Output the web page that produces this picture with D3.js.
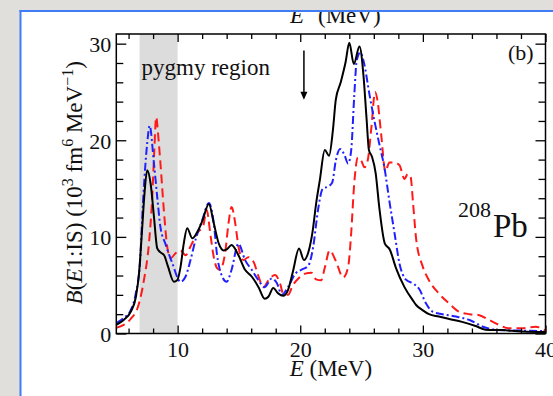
<!DOCTYPE html>
<html>
<head>
<meta charset="utf-8">
<script src="https://cdn.jsdelivr.net/npm/d3@7"></script>
<style>
  html, body { margin: 0; padding: 0; background: #e0dfdb; }
  svg { display: block; }
  text { font-family: "Liberation Serif", "Times New Roman", serif; fill: #111; }
</style>
</head>
<body>
<svg id="chart" width="553" height="396"></svg>
<script>
// Isoscalar E1 strength in 208Pb: three calculations
const energyBlack = [5.0, 5.6, 6.2, 6.6, 6.85, 7.1, 7.3, 7.52, 7.8, 8.07, 8.34, 8.6, 8.9, 9.2, 9.7, 9.96, 10.24, 10.5, 10.78, 11.2, 11.6, 12.0, 12.55, 12.95, 13.36, 13.76, 14.0, 14.4, 14.96, 15.5, 16.04, 16.6, 17.1, 17.4, 17.8, 18.2, 18.6, 19.0, 19.4, 19.9, 20.3, 20.7, 21.0, 21.3, 21.6, 22.0, 22.35, 22.66, 22.9, 23.3, 23.7, 24.0, 24.37, 24.83, 25.15, 25.4, 25.6, 25.85, 26.15, 26.45, 26.9, 27.3, 27.8, 28.5, 29.2, 29.45, 30.0, 30.5, 31.3, 32.15, 33.2, 34.3, 35.1, 36.5, 38.1, 40.0];
const valueBlack = [0.9, 1.4, 2.3, 3.8, 6.2, 10.7, 14.5, 16.9, 15.5, 12.1, 8.8, 8.4, 8.1, 7.0, 5.35, 5.5, 6.9, 9.3, 10.9, 9.85, 10.5, 11.6, 13.4, 11.4, 9.3, 8.6, 8.7, 9.15, 8.1, 6.6, 5.9, 4.8, 3.6, 3.8, 4.7, 4.15, 3.9, 4.5, 6.4, 8.8, 7.6, 8.6, 10.5, 13.5, 15.9, 19.0, 18.4, 21.0, 24.2, 26.0, 28.1, 30.1, 27.9, 29.7, 26.8, 22.4, 19.0, 18.3, 16.6, 13.0, 9.3, 8.7, 6.8, 4.8, 3.4, 2.95, 2.4, 2.0, 1.75, 1.5, 1.2, 0.78, 0.4, 0.35, 0.2, 0.15];

const energyBlue = [5.0, 5.6, 6.17, 6.58, 6.93, 7.2, 7.52, 7.72, 8.07, 8.34, 8.6, 9.0, 9.56, 10.24, 10.65, 11.05, 11.46, 12.0, 12.55, 12.95, 13.2, 13.6, 14.0, 14.4, 14.96, 15.5, 16.04, 16.6, 17.1, 17.67, 18.1, 18.5, 19.0, 19.6, 20.1, 20.65, 21.06, 21.45, 21.84, 22.25, 22.6, 22.9, 23.25, 23.6, 23.9, 24.15, 24.4, 24.6, 24.9, 25.2, 25.65, 26.05, 26.45, 26.86, 27.27, 27.7, 28.1, 28.6, 29.3, 29.7, 30.26, 30.8, 31.6, 32.7, 33.8, 34.9, 36.2, 37.9, 40.0];
const valueBlue = [1.1, 1.6, 2.4, 4.1, 7.3, 14.1, 19.7, 21.5, 17.6, 14.1, 11.0, 9.3, 7.3, 5.35, 5.9, 7.6, 9.7, 11.7, 13.5, 11.4, 8.3, 6.0, 5.35, 6.6, 9.3, 7.6, 6.6, 5.5, 4.8, 5.7, 5.2, 4.0, 4.8, 6.2, 6.6, 7.0, 9.0, 12.8, 15.0, 15.2, 15.6, 17.9, 19.1, 18.5, 17.6, 18.9, 24.5, 28.2, 29.1, 28.0, 24.7, 22.0, 19.6, 17.2, 13.7, 10.3, 7.2, 5.6, 5.1, 4.6, 3.1, 2.25, 2.0, 1.75, 1.4, 0.7, 0.36, 0.3, 0.25];

const energyRed = [5.0, 5.6, 6.17, 6.85, 7.25, 7.66, 7.93, 8.1, 8.25, 8.45, 8.6, 8.9, 9.15, 9.43, 9.83, 10.24, 10.65, 11.05, 11.6, 12.1, 12.36, 12.7, 12.95, 13.2, 13.44, 13.87, 14.15, 14.4, 14.7, 14.96, 15.37, 15.77, 16.2, 16.6, 17.0, 17.4, 17.94, 18.35, 18.6, 19.0, 19.4, 19.85, 20.4, 20.9, 21.3, 21.7, 22.0, 22.4, 22.9, 23.5, 23.9, 24.15, 24.4, 24.7, 24.97, 25.24, 25.5, 25.8, 26.1, 26.3, 26.6, 26.94, 27.27, 27.7, 28.1, 28.5, 28.76, 29.0, 29.2, 29.45, 30.0, 30.5, 31.3, 32.15, 32.96, 33.8, 34.6, 35.4, 36.2, 37.0, 38.1, 39.2, 40.0];
const valueRed = [0.6, 0.9, 1.5, 3.1, 5.5, 9.3, 14.1, 19.0, 22.4, 20.0, 17.6, 12.4, 9.0, 7.8, 8.3, 8.6, 8.1, 9.0, 10.4, 11.2, 12.8, 10.0, 7.9, 6.8, 6.6, 8.3, 11.4, 13.1, 11.4, 9.0, 7.6, 7.9, 7.4, 5.9, 4.8, 5.5, 6.05, 5.2, 4.15, 4.0, 5.0, 5.7, 6.2, 6.3, 5.6, 5.5, 6.8, 8.6, 7.5, 5.8, 6.85, 10.3, 15.5, 18.2, 17.9, 17.2, 17.9, 21.3, 25.0, 24.1, 20.6, 16.8, 17.7, 17.7, 17.4, 16.0, 16.5, 16.2, 13.5, 9.8, 6.9, 5.5, 4.15, 3.1, 2.25, 2.0, 1.9, 1.4, 0.9, 0.55, 0.55, 0.7, 0.3];

const xMajorTicks = [10, 20, 30, 40];
const xMinorTicks = [6, 8, 12, 14, 16, 18, 22, 24, 26, 28, 32, 34, 36, 38];
const yMajorTicks = [0, 10, 20, 30];
const yMinorTicks = [2, 4, 6, 8, 12, 14, 16, 18, 22, 24, 26, 28];
const pygmyRange = [6.9, 10.0];
const arrowEnergy = 20.3;
const arrowValues = [29.3, 24.2];

const svg = d3.select("#chart");
const W = 553, H = 396;
const plotLeft = 116.3, plotRight = 545.5, plotTop = 34, plotBottom = 333.5;

const x = d3.scaleLinear().domain([5, 40]).range([plotLeft, plotRight]);
const y = d3.scaleLinear().domain([0, 31]).range([plotBottom, plotTop]);

// page panel
svg.append("rect").attr("width", W).attr("height", H).attr("fill", "#e0dfdb");
svg.append("rect").attr("x", 20).attr("y", 11).attr("width", W - 20).attr("height", H - 11).attr("fill", "#fff");

// upper axis title, partly hidden by the panel edge
const topTitle = svg.append("text").attr("y", 23).attr("font-size", 23);
topTitle.append("tspan").attr("x", 290).attr("font-style", "italic").text("E");
topTitle.append("tspan").attr("x", 318).text("(MeV)");

// shaded pygmy band
svg.append("rect")
  .attr("x", x(pygmyRange[0])).attr("y", plotTop)
  .attr("width", x(pygmyRange[1]) - x(pygmyRange[0]))
  .attr("height", plotBottom - plotTop)
  .attr("fill", "#dcdcdc");

svg.append("defs").append("clipPath").attr("id", "plotClip")
  .append("rect").attr("x", plotLeft).attr("y", plotTop)
  .attr("width", plotRight - plotLeft).attr("height", plotBottom - plotTop);

const line = d3.line().x(d => x(d[0])).y(d => y(d[1])).curve(d3.curveMonotoneX);

const series = [
  { e: energyRed, v: valueRed, color: "#ff1a1a", dash: "9,5" },
  { e: energyBlue, v: valueBlue, color: "#2020ff", dash: "8,3,2,3" },
  { e: energyBlack, v: valueBlack, color: "#000", dash: null }
];
const plot = svg.append("g").attr("clip-path", "url(#plotClip)");
series.forEach(s => {
  plot.append("path")
    .datum(s.e.map((e, i) => [e, s.v[i]]))
    .attr("d", line)
    .attr("fill", "none")
    .attr("stroke", s.color)
    .attr("stroke-width", 2)
    .attr("stroke-dasharray", s.dash);
});

// axes with inward ticks
function axisGroup(gen, tx, ty) {
  const g = svg.append("g").attr("transform", `translate(${tx},${ty})`).call(gen);
  g.select(".domain").remove();
  g.selectAll(".tick line").attr("stroke", "#000").attr("stroke-width", 1.3);
  return g;
}
const gxb = axisGroup(d3.axisBottom(x).tickValues(xMajorTicks).tickSize(-8).tickPadding(0).tickFormat(d3.format("d")), 0, plotBottom);
gxb.selectAll("text").attr("font-size", 22).attr("fill", "#111").attr("dy", null).attr("y", 23);
axisGroup(d3.axisBottom(x).tickValues(xMinorTicks).tickSize(-5).tickFormat(""), 0, plotBottom);
axisGroup(d3.axisTop(x).tickValues(xMajorTicks).tickSize(-8).tickFormat(""), 0, plotTop);
axisGroup(d3.axisTop(x).tickValues(xMinorTicks).tickSize(-5).tickFormat(""), 0, plotTop);

const gyl = axisGroup(d3.axisLeft(y).tickValues(yMajorTicks).tickSize(-10).tickPadding(0).tickFormat(d3.format("d")), plotLeft, 0);
gyl.selectAll("text").attr("font-size", 22).attr("fill", "#111").attr("x", -5).attr("dy", "0.36em");
axisGroup(d3.axisLeft(y).tickValues(yMinorTicks).tickSize(-7).tickFormat(""), plotLeft, 0);
axisGroup(d3.axisRight(y).tickValues(yMajorTicks).tickSize(-10).tickFormat(""), plotRight, 0);
axisGroup(d3.axisRight(y).tickValues(yMinorTicks).tickSize(-7).tickFormat(""), plotRight, 0);

svg.append("rect")
  .attr("x", plotLeft).attr("y", plotTop).attr("width", plotRight - plotLeft).attr("height", plotBottom - plotTop)
  .attr("fill", "none").attr("stroke", "#000").attr("stroke-width", 1.5);

// axis titles
const xt = svg.append("text").attr("x", (plotLeft + plotRight) / 2).attr("y", 376)
  .attr("text-anchor", "middle").attr("font-size", 23);
xt.append("tspan").attr("font-style", "italic").text("E");
xt.append("tspan").text(" (MeV)");

const yt = svg.append("text").attr("transform", `translate(82,${(plotTop + plotBottom) / 2 - 1}) rotate(-90)`)
  .attr("text-anchor", "middle").attr("font-size", 23);
yt.append("tspan").attr("font-style", "italic").text("B");
yt.append("tspan").text("(");
yt.append("tspan").attr("font-style", "italic").text("E");
yt.append("tspan").text("1:IS) (10");
yt.append("tspan").attr("font-size", 16).attr("dy", -9).text("3");
yt.append("tspan").attr("dy", 9).text(" fm");
yt.append("tspan").attr("font-size", 16).attr("dy", -9).text("6");
yt.append("tspan").attr("dy", 9).text(" MeV");
yt.append("tspan").attr("font-size", 16).attr("dy", -9).text("\u22121");
yt.append("tspan").attr("dy", 9).text(")");

// annotations
svg.append("text").attr("x", 141.5).attr("y", 75).attr("font-size", 23).text("pygmy region");
svg.append("text").attr("x", 508).attr("y", 60).attr("font-size", 22).text("(b)");
svg.append("text").attr("x", 458).attr("y", 217).attr("font-size", 22).text("208");
svg.append("text").attr("x", 493).attr("y", 237).attr("font-size", 33).text("Pb");

const ax = x(arrowEnergy);
svg.append("line").attr("x1", ax).attr("x2", ax)
  .attr("y1", y(arrowValues[0])).attr("y2", y(arrowValues[1]) - 6)
  .attr("stroke", "#000").attr("stroke-width", 1.5);
svg.append("path")
  .attr("d", `M${ax - 3.5},${y(arrowValues[1]) - 8} L${ax + 3.5},${y(arrowValues[1]) - 8} L${ax},${y(arrowValues[1])} Z`)
  .attr("fill", "#000");

// panel edge on top of everything
svg.append("rect").attr("x", 0).attr("y", 0).attr("width", W).attr("height", 10).attr("fill", "#e0dfdb");
svg.append("rect").attr("x", 0).attr("y", 0).attr("width", 19.5).attr("height", H).attr("fill", "#e0dfdb");
svg.append("line").attr("x1", 20.5).attr("x2", 20.5).attr("y1", 10).attr("y2", H).attr("stroke", "#3f7cf6").attr("stroke-width", 2);
svg.append("line").attr("x1", 19.5).attr("x2", W).attr("y1", 11).attr("y2", 11).attr("stroke", "#3f7cf6").attr("stroke-width", 2);
</script>
</body>
</html>
